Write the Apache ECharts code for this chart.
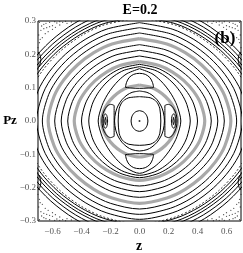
<!DOCTYPE html>
<html><head><meta charset="utf-8">
<script src="https://cdn.jsdelivr.net/npm/echarts@6/dist/echarts.min.js"></script>
<style>html,body{margin:0;padding:0;background:#fff}#c{width:243px;height:253px}</style>
</head><body><div id="c"></div>
<script>
// ---- axis ticks ----
const zTicks = [-0.6, -0.4, -0.2, 0.0, 0.2, 0.4, 0.6];
const pzTicks = [-0.3, -0.2, -0.1, 0.0, 0.1, 0.2, 0.3];
const titleText = 'E=0.2';
const panelText = '(b)';

// ---- invariant curves: first-quadrant points [z, Pz] from (0,b) to (a,0), mirrored by symmetry ----
const curveC1 = [[0,.031],[.023,.0284],[.035,.0248],[.041,.0219],[.0464,.0186],[.0532,.0124],[.058,0]];
const curveC2 = [[0,.073],[.0735,.0698],[.103,.0634],[.1167,.058],[.1277,.0511],[.1405,.0365],[.147,0]];
const curveC3 = [[0,.09],[.0516,.0859],[.086,.0779],[.1216,.0636],[.149,.045],[.164,.027],[.172,0]];
const curveC4 = [[0,.157],[.0855,.1422],[.1425,.1223],[.1847,.1017],[.222,.0785],[.258,.0471],[.285,0]];
const curveC5 = [[0,.163],[.105,.1524],[.175,.1351],[.238,.1108],[.29,.0815],[.327,.0489],[.35,0]];
const curveC6 = [[0,.17],[.12,.159],[.2,.1409],[.272,.1156],[.3316,.085],[.374,.051],[.40,0]];
const curveC7 = [[0,.195],[.1485,.1823],[.2475,.1617],[.3366,.1326],[.4104,.0975],[.4628,.0585],[.495,0]];
const curveC8 = [[0,.212],[.162,.1982],[.27,.1757],[.3672,.1442],[.4477,.106],[.5049,.0636],[.54,0]];
const curveC9 = [[0,.229],[.1755,.2141],[.2925,.1898],[.3978,.1557],[.485,.1145],[.547,.0687],[.585,0]];
const curveC10 = [[0,.264],[.201,.2468],[.335,.2189],[.4556,.1795],[.5554,.132],[.6265,.0792],[.67,0]];
const curveC11 = [[0,.28],[.213,.2618],[.355,.2321],[.4828,.1904],[.5886,.14],[.6639,.084],[.71,0]];
const curveC12 = [[0,.295],[.225,.2758],[.375,.2446],[.51,.2006],[.6218,.1475],[.7013,.0885],[.75,0]];
const grayG1 = [[0,.108],[.0786,.101],[.131,.0895],[.178,.0734],[.217,.054],[.245,.0324],[.262,0]];
const grayG2 = [[0,.178],[.135,.1664],[.225,.1476],[.306,.121],[.373,.089],[.421,.0534],[.45,0]];
const grayG3 = [[0,.247],[.189,.2309],[.315,.2048],[.4284,.168],[.5223,.1235],[.589,.0741],[.63,0]];

// outer curves cut by the top and side edges
const chaosLayer = [[0,.309],[.24,.2889],[.4,.2562],[.544,.2101],[.663,.1545],[.748,.0927],[.8,0]];
const outerO2 = [[0,.3125],[.246,.2922],[.41,.2591],[.5576,.2125],[.6798,.1563],[.7667,.0938],[.82,0]];
const outerO3 = [[0,.321],[.252,.3001],[.42,.2661],[.5712,.2183],[.6964,.1605],[.7854,.0963],[.84,0]];
const outerO4 = [[0,.3286],[.258,.3072],[.43,.2724],[.5848,.2234],[.7129,.1643],[.8041,.0986],[.86,0]];
const outerO5 = [[0,.34],[.264,.3179],[.44,.2819],[.5984,.2312],[.7295,.17],[.8228,.102],[.88,0]];
const chaosBoundary = [[0,.353],[.27,.33],[.45,.2926],[.612,.24],[.7461,.1765],[.8415,.1059],[.9,0]];
const chaosDots = [[.47,.297],[.5,.293],[.53,.296],[.55,.288],[.57,.294],[.6,.286],[.62,.296],[.64,.28],
  [.66,.29],[.68,.272],[.69,.296],[.65,.262],[.67,.25],[.69,.235],[.7,.22],[.6,.275],[.63,.268],[.585,.298],
  [.675,.285],[.695,.258],[.55,.298],[.51,.299],[.66,.277],[.685,.245],[.62,.283],[.58,.281],[.645,.293]];

// ---- islands (full shapes) ----
const topIsland = [[-.097,.101],[-.09,.115],[-.072,.13],[-.04,.14],[0,.143],[.04,.14],[.072,.13],[.09,.115],[.097,.101],[.06,.099],[0,.098],[-.06,.099],[-.097,.101]];
const sideIsland = [[.175,-.046],[.175,.046],[.2,.05],[.225,.044],[.245,.03],[.256,.015],[.259,0],[.256,-.015],[.245,-.03],[.225,-.044],[.2,-.05],[.175,-.046]];
const sideCore = [[.235,.022],[.245,.016],[.25,0],[.245,-.016],[.235,-.022],[.225,-.016],[.22,0],[.225,.016],[.235,.022]];
const sideCoreInner = [[.235,.011],[.24,0],[.235,-.011],[.23,0],[.235,.011]];
const edgeIsland = [[.7,.207],[.688,.2],[.68,.185],[.688,.168],[.7,.16]];
const centerPoint = [[0,0]];

// ---- helpers ----
function closed(q){
  const q4 = q.slice().reverse().map(([z,p])=>[z,-p]);
  const q3 = q.map(([z,p])=>[-z,-p]);
  const q2 = q.slice().reverse().map(([z,p])=>[-z,p]);
  return [...q, ...q4.slice(1), ...q3.slice(1), ...q2.slice(1)];
}
function four(q){
  return [q, q.map(([z,p])=>[z,-p]), q.map(([z,p])=>[-z,-p]), q.map(([z,p])=>[-z,p])];
}
const series = [];
function addLine(data, color, width, type, smooth){
  series.push({type:'line', data, showSymbol:false, symbol:'none', smooth: smooth===undefined?0.3:smooth,
    lineStyle:{color, width, type: type||'solid'}, silent:true, z:2});
}
const GRAY = '#a9a9a9', BLACK = '#000';
[grayG1, grayG2, grayG3].forEach(q=>addLine(closed(q), GRAY, 3.2));
[curveC1, curveC2, curveC3, curveC4, curveC5, curveC6, curveC7, curveC8, curveC9, curveC10, curveC11, curveC12,
 outerO2, outerO3, outerO4, outerO5, chaosBoundary].forEach(q=>addLine(closed(q), BLACK, 1));
addLine(closed(chaosLayer), BLACK, 0.8, [2,2]);
addLine(topIsland, BLACK, 1);
addLine(topIsland.map(([z,p])=>[z,-p]), BLACK, 1);
[sideIsland, sideCore, sideCoreInner].forEach(q=>{
  addLine(q, BLACK, 1, 'solid', 0.2);
  addLine(q.map(([z,p])=>[-z,p]), BLACK, 1, 'solid', 0.2);
});
four(edgeIsland).forEach(s=>addLine(s, BLACK, 1));
const dots = [];
four(chaosDots).forEach(s=>s.forEach(d=>dots.push(d)));
series.push({type:'scatter', data:dots, symbolSize:1.3, itemStyle:{color:'#222'}, silent:true});
series.push({type:'scatter', data:centerPoint, symbolSize:2, itemStyle:{color:'#000'}, silent:true});

const fmt = v => (Math.abs(v)<1e-9 ? '0.0' : v.toFixed(1)).replace('-', '\u2212');
const labelStyle = {fontFamily:'"Liberation Serif", serif', fontSize:9, color:'#555'};

const chart = echarts.init(document.getElementById('c'), null, {renderer:'canvas'});
chart.setOption({
  animation:false,
  grid:{left:38, right:2, top:21, bottom:32, show:true, borderColor:'#000', borderWidth:1, backgroundColor:'transparent'},
  xAxis:{type:'value', min:-0.7, max:0.7, axisLine:{show:false}, axisTick:{show:false}, splitLine:{show:false},
    axisLabel:Object.assign({customValues:zTicks, formatter:fmt, margin:6, showMinLabel:true, showMaxLabel:true}, labelStyle)},
  yAxis:{type:'value', min:-0.3, max:0.3, axisLine:{show:false}, axisTick:{show:false}, splitLine:{show:false},
    axisLabel:Object.assign({customValues:pzTicks, formatter:fmt, margin:2, showMinLabel:true, showMaxLabel:true}, labelStyle)},
  graphic:[
    {type:'text', z:100, style:{x:140, y:10, text:titleText, font:'bold 14px "Liberation Serif"', fill:'#000', align:'center', verticalAlign:'middle'}},
    {type:'text', z:100, style:{x:10, y:121, text:'Pz', font:'bold 13px "Liberation Serif"', fill:'#000', align:'center', verticalAlign:'middle'}},
    {type:'text', z:100, style:{x:139, y:246, text:'z', font:'bold 14px "Liberation Serif"', fill:'#000', align:'center', verticalAlign:'middle'}},
    {type:'text', z:100, style:{x:225, y:39, text:panelText, font:'bold 17px "Liberation Serif"', fill:'#000', align:'center', verticalAlign:'middle'}}
  ],
  series
});
</script></body></html>
